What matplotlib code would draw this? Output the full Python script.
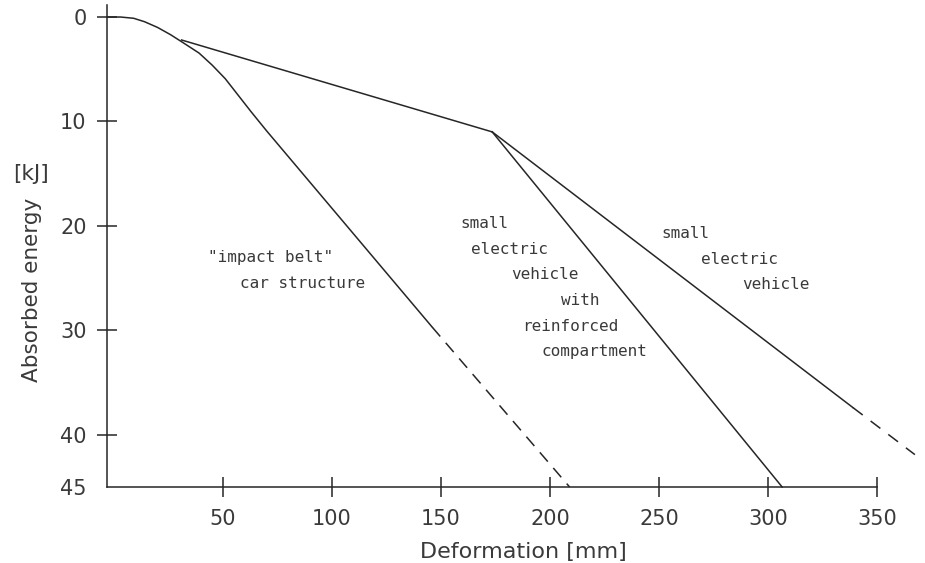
import matplotlib
matplotlib.use("Agg")
import matplotlib.pyplot as plt

# values (deformation in mm, absorbed energy in kJ)
belt_x = [-3, 3, 9, 14, 20, 26, 32, 39, 45, 51, 57, 63, 70, 146]
belt_y = [0, 0, 0.12, 0.45, 1.0, 1.7, 2.5, 3.45, 4.6, 5.9, 7.5, 9.1, 10.9, 29.7]
belt_ext_x = [146, 209]
belt_ext_y = [29.7, 45]

common_x = [31, 173.5]
common_y = [2.2, 11.0]

ev_x = [173.5, 339]
ev_y = [11.0, 37.4]
ev_ext_x = [339, 367.4]
ev_ext_y = [37.4, 41.9]

reinf_x = [173.5, 306.5]
reinf_y = [11.0, 45]

xticks = [50, 100, 150, 200, 250, 300, 350]
yticks = [0, 10, 20, 30, 40, 45]

belt_text = ['"impact belt"', 'car structure']
reinf_text = ['small', 'electric', 'vehicle', 'with', 'reinforced', 'compartment']
ev_text = ['small', 'electric', 'vehicle']

ink = '#262626'
txt = '#3a3a3a'
lw = 1.1

fig = plt.figure(figsize=(9.25, 5.63), dpi=100)
ax = fig.add_axes([0.1162, 0.135, 0.879, 0.8561])
ax.set_xlim(-3, 370)
ax.set_ylim(45, -1.15)

ax.plot(belt_x, belt_y, color=ink, lw=lw, clip_on=False, solid_joinstyle='round')
ax.plot(belt_ext_x, belt_ext_y, color=ink, lw=lw, dashes=(8, 5.5), clip_on=False)
ax.plot(common_x, common_y, color=ink, lw=lw, clip_on=False)
ax.plot(ev_x, ev_y, color=ink, lw=lw, clip_on=False)
ax.plot(ev_ext_x, ev_ext_y, color=ink, lw=lw, dashes=(8, 6.5), clip_on=False)
ax.plot(reinf_x, reinf_y, color=ink, lw=lw, clip_on=False)

for s in ['top', 'right']:
    ax.spines[s].set_visible(False)
for s in ['left', 'bottom']:
    ax.spines[s].set_color(ink)
    ax.spines[s].set_linewidth(lw)
ax.spines['bottom'].set_bounds(-3, 350)

ax.set_xticks(xticks)
ax.set_xticklabels([str(v) for v in xticks])
ax.set_yticks(yticks)
ax.set_yticklabels([str(v) for v in yticks])
ax.tick_params(axis='both', direction='inout', length=14, width=lw, color=ink,
               labelcolor=txt, labelsize=15)
ax.tick_params(axis='y', pad=8)
ax.tick_params(axis='x', pad=9)
ax.yaxis.get_major_ticks()[-1].tick1line.set_visible(False)

mono = dict(family='DejaVu Sans Mono', fontsize=11.5, color=txt,
            ha='center', va='center')
ax.text(72, 23.0, belt_text[0], **mono)
ax.text(86.5, 25.5, belt_text[1], **mono)

reinf_pos = [(169.7, 19.8), (181.2, 22.3), (197.7, 24.7),
             (213.8, 27.1), (209.2, 29.6), (220.6, 32.0)]
for t, (tx, ty) in zip(reinf_text, reinf_pos):
    ax.text(tx, ty, t, **mono)

ev_pos = [(262, 20.7), (287, 23.2), (303.7, 25.6)]
for t, (tx, ty) in zip(ev_text, ev_pos):
    ax.text(tx, ty, t, **mono)

fig.text(523 / 925, 1 - 552 / 563, 'Deformation [mm]', fontsize=16,
         color=txt, ha='center', va='center')
fig.text(32 / 925, 1 - 290 / 563, 'Absorbed energy', fontsize=15.5,
         color=txt, ha='center', va='center', rotation=90)
fig.text(31 / 925, 1 - 174 / 563, '[kJ]', fontsize=15.5,
         color=txt, ha='center', va='center')

fig.savefig('out.png', dpi=100)
